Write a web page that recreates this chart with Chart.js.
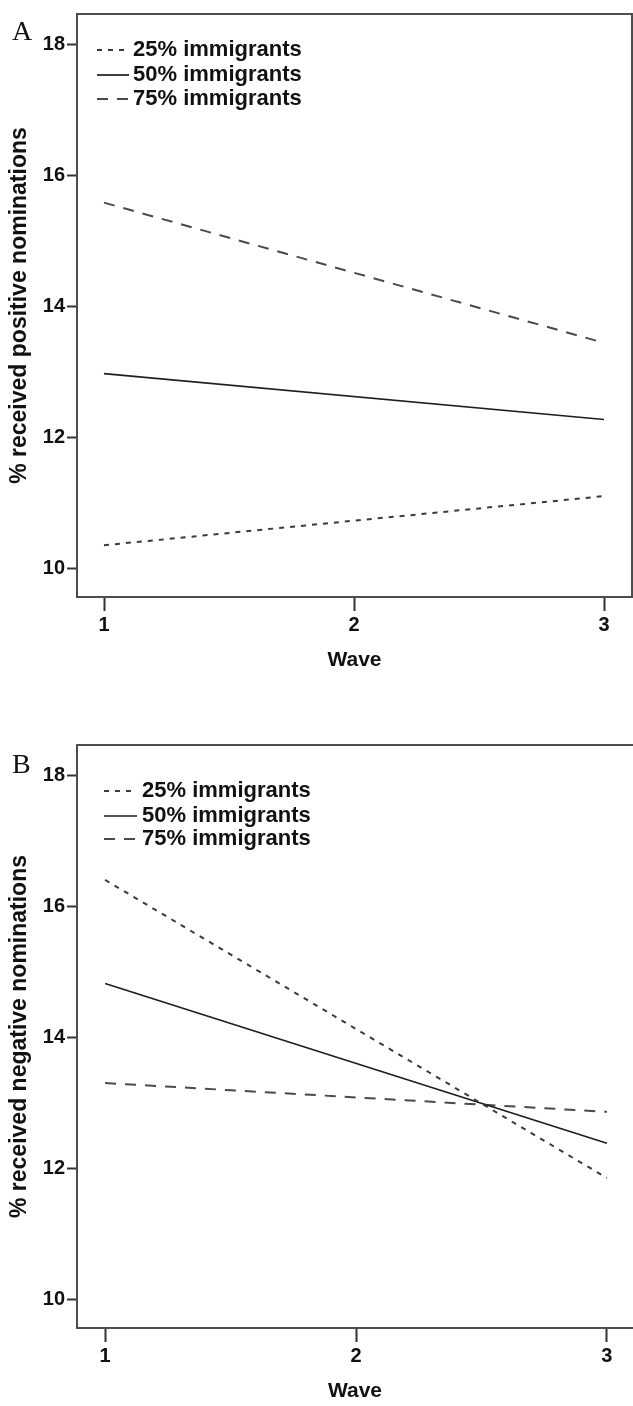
<!DOCTYPE html>
<html lang="en">
<head>
    <meta charset="UTF-8">
    <title>Received nominations by wave</title>
    <script src="https://cdn.jsdelivr.net/npm/chart.js"></script>
    <style>
        body {
            margin: 0;
            background: #fff;
        }
        canvas {
            display: block;
        }
    </style>
</head>
<body>
    <canvas id="chartA" width="633" height="731"></canvas>
    <canvas id="chartB" width="633" height="675"></canvas>

    <script>
        const waveEnds = [1, 3];
        const waveTicks = [1, 2, 3];
        const pctTicks = [10, 12, 14, 16, 18];
        const seriesLabels = ['25% immigrants', '50% immigrants', '75% immigrants'];

        // panel A: positive nominations
        const positive25 = [10.35, 11.1];
        const positive50 = [12.97, 12.27];
        const positive75 = [15.58, 13.44];

        // panel B: negative nominations
        const negative25 = [16.4, 11.85];
        const negative50 = [14.82, 12.38];
        const negative75 = [13.3, 12.86];

        const FONT = '"Liberation Sans", Arial, sans-serif';
        const lineStyles = [
            { color: '#3a3a3a', dash: [5, 6], width: 2 },
            { color: '#1e1e1e', dash: [], width: 1.7 },
            { color: '#4a4a4a', dash: [11, 9], width: 2 }
        ];

        // box round the plot, legend inside it, panel letter
        const framePlugin = {
            id: 'frame',
            afterDraw(chart, args, opts) {
                const { ctx, chartArea: a } = chart;
                ctx.save();
                ctx.strokeStyle = '#4d4d4d';
                ctx.lineWidth = 2;
                const right = opts.openRight ? a.right + 10 : a.right;
                ctx.strokeRect(a.left, a.top, right - a.left, a.bottom - a.top);

                ctx.font = 'bold 22px ' + FONT;
                ctx.textBaseline = 'middle';
                ctx.fillStyle = '#111';
                chart.data.datasets.forEach((ds, i) => {
                    const y = a.top + opts.rows[i];
                    ctx.strokeStyle = ds.borderColor;
                    ctx.lineWidth = ds.borderWidth;
                    ctx.setLineDash(ds.borderDash);
                    ctx.beginPath();
                    ctx.moveTo(opts.sampleX, y);
                    ctx.lineTo(opts.sampleX + opts.sampleLen, y);
                    ctx.stroke();
                    ctx.setLineDash([]);
                    ctx.fillText(ds.label, opts.textX, y);
                });

                ctx.font = '28px "Liberation Serif", "Times New Roman", serif';
                ctx.textBaseline = 'alphabetic';
                ctx.fillStyle = '#111';
                ctx.fillText(opts.letter, 12, opts.letterY);
                ctx.restore();
            }
        };

        function makeDatasets(s25, s50, s75) {
            return [s25, s50, s75].map((vals, i) => ({
                label: seriesLabels[i],
                data: waveEnds.map((w, j) => ({ x: w, y: vals[j] })),
                borderColor: lineStyles[i].color,
                borderWidth: lineStyles[i].width,
                borderDash: lineStyles[i].dash,
                pointRadius: 0,
                fill: false
            }));
        }

        function makeScales(xMin, xMax, yTitle) {
            const tickFont = { family: FONT, size: 20, weight: 'bold' };
            return {
                x: {
                    type: 'linear',
                    min: xMin,
                    max: xMax,
                    afterBuildTicks: s => { s.ticks = waveTicks.map(v => ({ value: v })); },
                    afterFit: s => { s.height = 78; },
                    grid: { drawOnChartArea: false, tickLength: 14, tickWidth: 2, tickColor: '#333' },
                    border: { display: false },
                    ticks: { padding: 2, color: '#111', font: tickFont, maxRotation: 0, autoSkip: false },
                    title: { display: true, text: 'Wave', color: '#111', font: { family: FONT, size: 21, weight: 'bold' }, padding: { top: 0, bottom: 2 } }
                },
                y: {
                    type: 'linear',
                    min: 9.56,
                    max: 18.46,
                    afterBuildTicks: s => { s.ticks = pctTicks.map(v => ({ value: v })); },
                    afterFit: s => { s.width = 77; },
                    grid: { drawOnChartArea: false, tickLength: 10, tickWidth: 2, tickColor: '#333' },
                    border: { display: false },
                    ticks: { padding: 2, color: '#111', font: tickFont },
                    title: { display: true, text: yTitle, color: '#111', font: { family: FONT, size: 23, weight: 'bold' }, padding: { top: 6, bottom: 0 } }
                }
            };
        }

        function makeChart(id, datasets, scales, padding, frame) {
            new Chart(document.getElementById(id), {
                type: 'line',
                data: { datasets: datasets },
                options: {
                    responsive: false,
                    animation: false,
                    devicePixelRatio: 1,
                    layout: { padding: padding },
                    scales: scales,
                    plugins: {
                        legend: { display: false },
                        tooltip: { enabled: false },
                        frame: frame
                    }
                },
                plugins: [framePlugin]
            });
        }

        makeChart('chartA',
            makeDatasets(positive25, positive50, positive75),
            makeScales(0.892, 3.112, '% received positive nominations'),
            { top: 12, right: 1, bottom: 56, left: 0 },
            { letter: 'A', letterY: 40, rows: [36, 61, 85], sampleX: 97, sampleLen: 32, textX: 133, openRight: false });

        makeChart('chartB',
            makeDatasets(negative25, negative50, negative75),
            makeScales(0.888, 3.104, '% received negative nominations'),
            { top: 13, right: 0, bottom: 0, left: 0 },
            { letter: 'B', letterY: 42, rows: [46, 71, 94], sampleX: 104, sampleLen: 33, textX: 142, openRight: true });
    </script>
</body>
</html>
